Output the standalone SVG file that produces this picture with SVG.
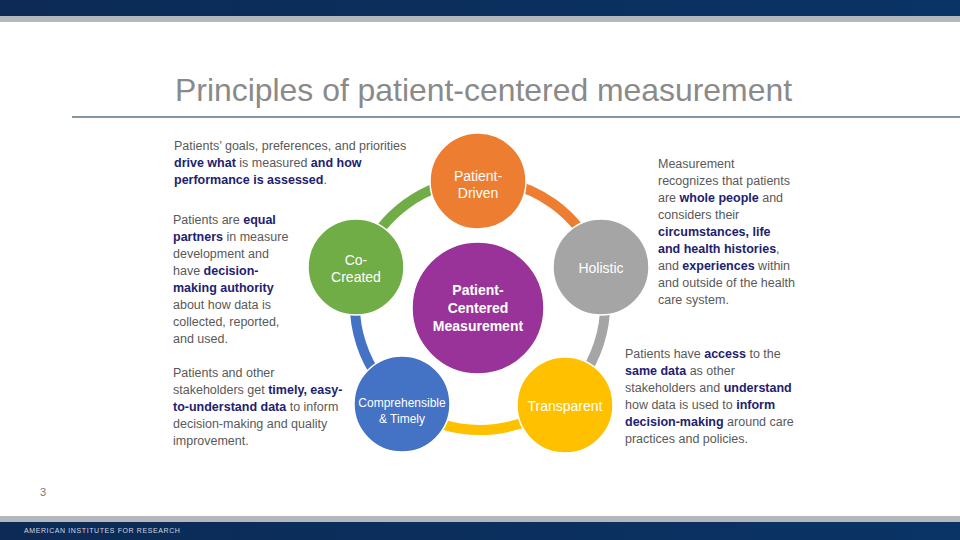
<svg xmlns="http://www.w3.org/2000/svg" width="960" height="540" viewBox="0 0 960 540">
<defs>
<linearGradient id="bar" x1="0" x2="1" y1="0" y2="0"><stop offset="0" stop-color="#0c2a55"/><stop offset="1" stop-color="#0a3466"/></linearGradient>
</defs>
<style>
.t{font-family:"Liberation Sans",Arial,sans-serif;font-size:12.5px;fill:#595959}
.b{font-weight:bold;fill:#1e2170}
.ring{fill:none;stroke-width:10}
.lbl{font-family:"Liberation Sans",Arial,sans-serif;font-size:14px;fill:#fff;text-anchor:middle}
.sm{font-size:12px}
.node{stroke:#fff;stroke-width:1.5}
</style>
<rect width="960" height="540" fill="#fff"/>
<rect x="0" y="0" width="960" height="16" fill="url(#bar)"/>
<rect x="0" y="16" width="960" height="6" fill="#b4b8bd"/>
<rect x="0" y="516" width="960" height="7" fill="#b4b8bd"/>
<rect x="0" y="522" width="960" height="18" fill="url(#bar)"/>
<text x="24" y="533" font-family="Liberation Sans,Arial,sans-serif" font-size="7" fill="#d0d6e0" letter-spacing="0.6">AMERICAN INSTITUTES FOR RESEARCH</text>
<text x="40" y="496" font-family="Liberation Sans,Arial,sans-serif" font-size="11" fill="#777">3</text>
<text x="175" y="101" font-family="Liberation Sans,Arial,sans-serif" font-size="32" fill="#8a8a8a" textLength="617" lengthAdjust="spacingAndGlyphs">Principles of patient-centered measurement</text>
<line x1="72" y1="117" x2="960" y2="117" stroke="#5c7282" stroke-width="1.5"/>

<g id="connectors">
<path class="ring" stroke="#70ad47" d="M361.1,266.4 A125,125 0 0 1 480,180"/>
<path class="ring" stroke="#ed7d31" d="M480,180 A125,125 0 0 1 598.9,266.4"/>
<path class="ring" stroke="#a5a5a5" d="M598.9,266.4 A125,125 0 0 1 553.5,406.1"/>
<path class="ring" stroke="#ffc000" d="M553.5,406.1 A125,125 0 0 1 406.5,406.1"/>
<path class="ring" stroke="#4472c4" d="M406.5,406.1 A125,125 0 0 1 361.1,266.4"/>
</g>

<g id="center"><circle class="node" cx="478" cy="308" r="66" fill="#993399"/>
<text class="lbl" font-weight="bold" x="478" y="295">Patient-</text><text class="lbl" font-weight="bold" x="478" y="313">Centered</text><text class="lbl" font-weight="bold" x="478" y="331">Measurement</text></g>
<g id="patient-driven"><circle class="node" cx="478" cy="181" r="48" fill="#ed7d31"/>
<text class="lbl" x="478" y="181">Patient-</text><text class="lbl" x="478" y="198">Driven</text></g>
<g id="holistic"><circle class="node" cx="601" cy="267" r="48" fill="#a5a5a5"/>
<text class="lbl" x="601" y="273">Holistic</text></g>
<g id="transparent"><circle class="node" cx="565" cy="405" r="48" fill="#ffc000"/>
<text class="lbl" x="565" y="411">Transparent</text></g>
<g id="comprehensible"><circle class="node" cx="402" cy="404" r="48" fill="#4472c4"/>
<text class="lbl sm" x="402" y="407">Comprehensible</text><text class="lbl sm" x="402" y="423">&amp; Timely</text></g>
<g id="co-created"><circle class="node" cx="356" cy="267" r="48" fill="#70ad47"/>
<text class="lbl" x="356" y="265">Co-</text><text class="lbl" x="356" y="282">Created</text></g>

<g id="text-left">
<text class="t" x="174" y="150">Patients’ goals, preferences, and priorities</text>
<text class="t" x="174" y="167"><tspan class="b">drive what</tspan> is measured <tspan class="b">and how</tspan></text>
<text class="t" x="174" y="184"><tspan class="b">performance is assessed</tspan>.</text>
<text class="t" x="173" y="224">Patients are <tspan class="b">equal</tspan></text>
<text class="t" x="173" y="241"><tspan class="b">partners</tspan> in measure</text>
<text class="t" x="173" y="258">development and</text>
<text class="t" x="173" y="275">have <tspan class="b">decision-</tspan></text>
<text class="t" x="173" y="292"><tspan class="b">making authority</tspan></text>
<text class="t" x="173" y="309">about how data is</text>
<text class="t" x="173" y="326">collected, reported,</text>
<text class="t" x="173" y="343">and used.</text>
<text class="t" x="173" y="377">Patients and other</text>
<text class="t" x="173" y="394">stakeholders get <tspan class="b">timely, easy-</tspan></text>
<text class="t" x="173" y="411"><tspan class="b">to-understand data</tspan> to inform</text>
<text class="t" x="173" y="428">decision-making and quality</text>
<text class="t" x="173" y="445">improvement.</text>
</g>
<g id="text-right">
<text class="t" x="658" y="168">Measurement</text>
<text class="t" x="658" y="185">recognizes that patients</text>
<text class="t" x="658" y="202">are <tspan class="b">whole people</tspan> and</text>
<text class="t" x="658" y="219">considers their</text>
<text class="t" x="658" y="236"><tspan class="b">circumstances, life</tspan></text>
<text class="t" x="658" y="253"><tspan class="b">and health histories</tspan>,</text>
<text class="t" x="658" y="270">and <tspan class="b">experiences</tspan> within</text>
<text class="t" x="658" y="287">and outside of the health</text>
<text class="t" x="658" y="304">care system.</text>
<text class="t" x="625" y="358">Patients have <tspan class="b">access</tspan> to the</text>
<text class="t" x="625" y="375"><tspan class="b">same data</tspan> as other</text>
<text class="t" x="625" y="392">stakeholders and <tspan class="b">understand</tspan></text>
<text class="t" x="625" y="409">how data is used to <tspan class="b">inform</tspan></text>
<text class="t" x="625" y="426"><tspan class="b">decision-making</tspan> around care</text>
<text class="t" x="625" y="443">practices and policies.</text>
</g>
</svg>
